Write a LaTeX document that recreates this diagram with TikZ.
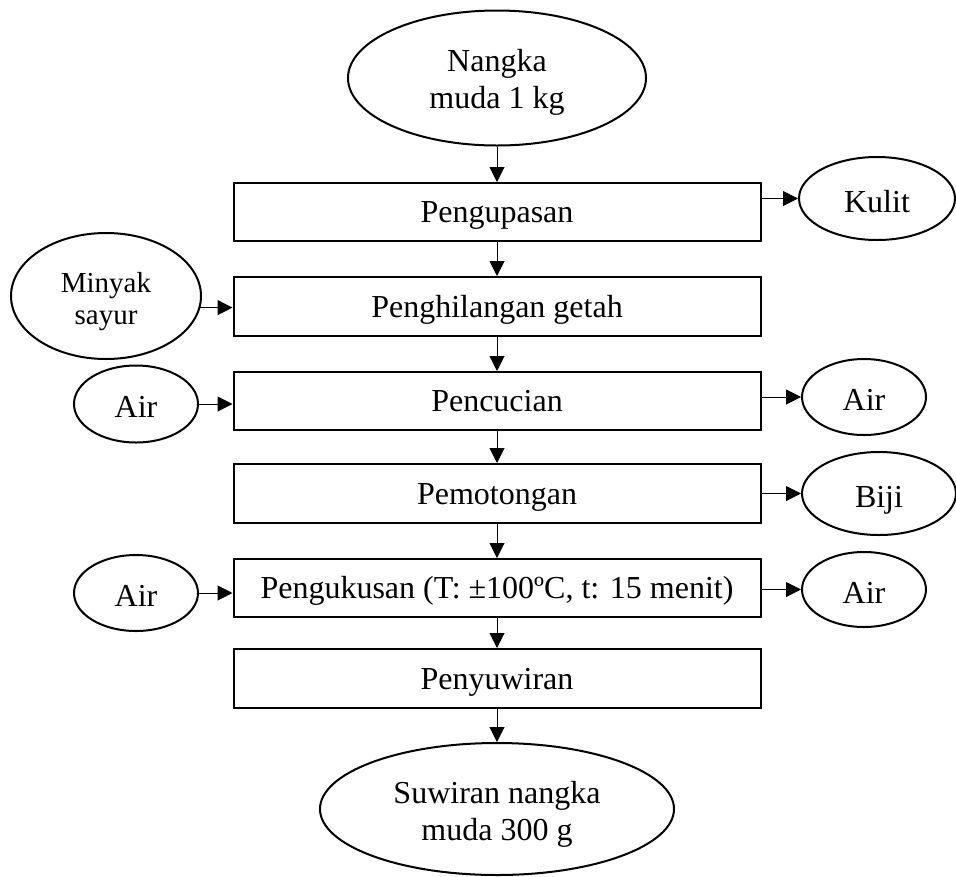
\documentclass[tikz,border=0pt]{standalone}
\usepackage{fontspec}
\setmainfont{Liberation Serif}
\usetikzlibrary{shapes.geometric,arrows.meta}
\begin{document}
\begin{tikzpicture}[x=1pt,y=-1pt,
  big/.style={font=\fontsize{32}{37}\selectfont},
  box/.style={draw,big,line width=2pt,minimum width=527pt,minimum height=58pt,inner sep=0pt,text height=29pt,text depth=8pt},
  oval/.style={draw,big,ellipse,line width=2pt,inner sep=0pt,text height=30pt,text depth=3pt},
  txt/.style={big,align=center,inner sep=0pt},
  arr/.style={line width=1pt,-{Triangle[length=15pt,width=15pt]}}]
\useasboundingbox (0,0) rectangle (956,876);
% main column
\node[oval,minimum width=298pt,minimum height=135pt] (top) at (497,78) {};
\node[txt] (toptext) at ([yshift=-4pt]top.center) {Nangka\\muda 1 kg};
\node[box] (b1) at (497,212) {Pengupasan};
\node[box,minimum height=59pt] (b2) at (497,306.5) {Penghilangan getah};
\node[box] (b3) at (497,401) {Pencucian};
\node[box,minimum height=59pt] (b4) at (497,493.5) {Pemotongan};
\node[box] (b5) at (497,588) {Pengukusan (T: ±100ºC, t: 15 menit)};
\node[box,minimum height=59pt] (b6) at (497,678.5) {Penyuwiran};
\node[oval,minimum width=354pt,minimum height=132pt] (bot) at (497,809) {};
\node[txt] (bottext) at ([yshift=-5pt]bot.center) {Suwiran nangka\\muda 300 g};
% side ellipses
\node[oval,minimum width=156pt,minimum height=83pt] (kulit) at (877,198.5) {Kulit};
\node[oval,minimum width=190pt,minimum height=126pt] (minyak) at (106,296) {};
\node[txt,font=\fontsize{29}{32}\selectfont] (minyaktext) at ([yshift=-6pt]minyak.center) {Minyak\\sayur};
\node[oval,minimum width=124pt,minimum height=77pt] (airLa) at (136,404) {Air};
\node[oval,minimum width=124pt,minimum height=76pt] (airRa) at (864,397) {Air};
\node[oval,minimum width=154pt,minimum height=83pt] (biji) at (879,493.5) {Biji};
\node[oval,minimum width=124pt,minimum height=76pt] (airLb) at (136,593) {Air};
\node[oval,minimum width=124pt,minimum height=75pt] (airRb) at (864,589.5) {Air};
% vertical flow
\draw[arr] (top) -- (b1);
\draw[arr] (b1) -- (b2);
\draw[arr] (b2) -- (b3);
\draw[arr] (b3) -- (b4);
\draw[arr] (b4) -- (b5);
\draw[arr] (b5) -- (b6);
\draw[arr] (b6) -- (bot);
% side flows
\draw[arr] (b1.east |- kulit) -- (kulit);
\draw[arr] (minyak.-7) -- (minyak.-7 -| b2.west);
\draw[arr] (airLa) -- (airLa -| b3.west);
\draw[arr] (b3.east |- airRa) -- (airRa);
\draw[arr] (b4.east |- biji) -- (biji);
\draw[arr] (airLb) -- (airLb -| b5.west);
\draw[arr] (b5.east |- airRb) -- (airRb);
\end{tikzpicture}
\end{document}
